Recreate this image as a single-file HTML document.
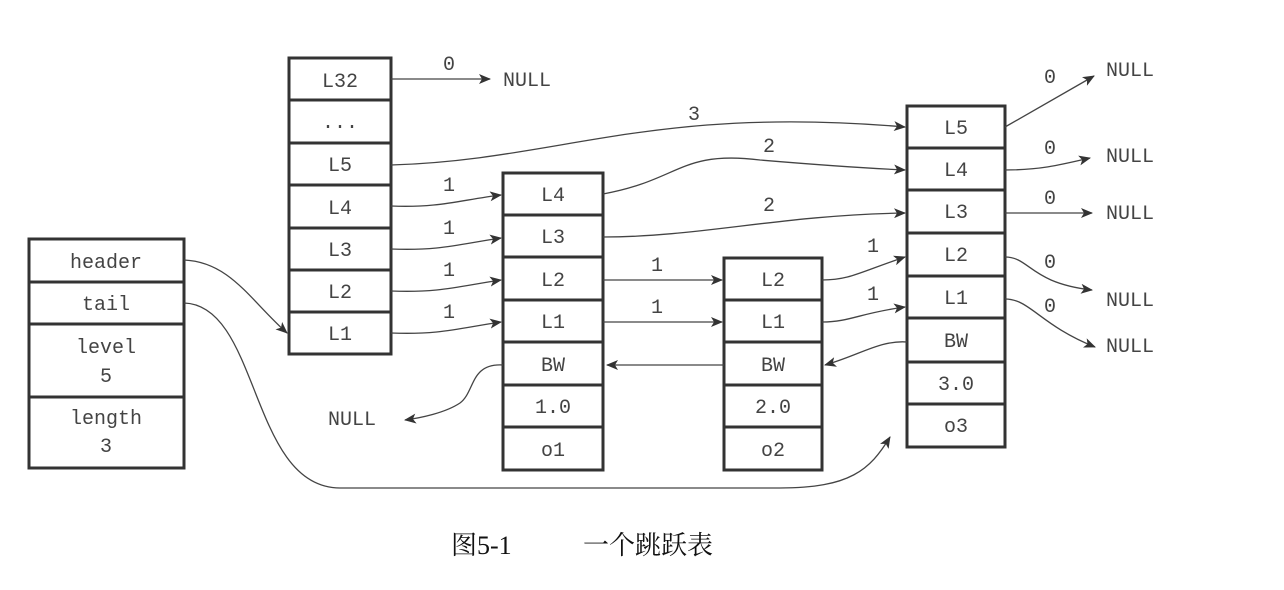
<!DOCTYPE html>
<html><head><meta charset="utf-8"><style>
body{margin:0;background:#fff;}
svg{display:block}
text{font-family:"Liberation Mono",monospace;font-size:20px;fill:#444;}
.c{font-family:"Liberation Serif","Noto Serif CJK SC",serif;font-size:26px;fill:#111;}
</style></head><body>
<svg width="1284" height="590" viewBox="0 0 1284 590" xmlns="http://www.w3.org/2000/svg">
<defs><marker id="a" markerWidth="12" markerHeight="10" refX="11" refY="5" orient="auto" markerUnits="userSpaceOnUse"><path d="M0,0 L12,5 L0,10 L3,5 z" fill="#333"/></marker></defs>
<g fill="none" stroke="#333" stroke-width="3">
<rect x="29" y="239" width="155" height="229"/><path d="M29 282H184M29 324H184M29 397H184"/>
<rect x="289" y="58" width="102" height="296"/><path d="M289 100H391M289 143H391M289 185H391M289 228H391M289 270H391M289 312H391"/>
<rect x="503" y="173" width="100" height="297"/><path d="M503 215H603M503 257H603M503 300H603M503 342H603M503 385H603M503 427H603"/>
<rect x="724" y="258" width="98" height="212"/><path d="M724 300H822M724 342H822M724 385H822M724 427H822"/>
<rect x="907" y="106" width="98" height="341"/><path d="M907 148H1005M907 190H1005M907 233H1005M907 276H1005M907 318H1005M907 362H1005M907 404H1005"/>
</g>
<g fill="none" stroke="#444" stroke-width="1.3" marker-end="url(#a)">
<path d="M184 260C230 262 250 300 287 333"/>
<path d="M184 303C260 305 250 488 340 488H780C850 488 870 470 890 437"/>
<path d="M391 79H490"/>
<path d="M391 165C560 160 650 105 905 127"/>
<path d="M391 206C440 208 460 200 501 195"/>
<path d="M391 249C440 251 460 244 501 238"/>
<path d="M391 291C440 293 460 286 501 280"/>
<path d="M391 333C440 335 460 328 501 322"/>
<path d="M603 194C680 180 680 150 760 160C820 165 860 168 905 170"/>
<path d="M603 237C700 237 780 215 905 213"/>
<path d="M603 280H722"/>
<path d="M603 322H722"/>
<path d="M503 365C470 363 475 392 460 403C445 413 420 418 405 420"/>
<path d="M724 365H607"/>
<path d="M907 342C880 340 860 355 825 365"/>
<path d="M822 280C850 280 860 272 905 257"/>
<path d="M822 322C850 322 860 313 905 307"/>
<path d="M1005 127L1094 76"/>
<path d="M1005 170C1040 170 1060 165 1090 158"/>
<path d="M1005 213H1092"/>
<path d="M1005 257C1030 257 1030 283 1092 290"/>
<path d="M1005 299C1030 299 1040 325 1095 347"/>
</g>
<g text-anchor="middle">
<text x="106" y="268">header</text><text x="106" y="310">tail</text>
<text x="106" y="353">level</text><text x="106" y="382">5</text>
<text x="106" y="424">length</text><text x="106" y="452">3</text>
<text x="340" y="87">L32</text><text x="340" y="128">...</text><text x="340" y="171">L5</text><text x="340" y="214">L4</text><text x="340" y="256">L3</text><text x="340" y="298">L2</text><text x="340" y="340">L1</text>
<text x="553" y="201">L4</text><text x="553" y="243">L3</text><text x="553" y="286">L2</text><text x="553" y="328">L1</text><text x="553" y="371">BW</text><text x="553" y="413">1.0</text><text x="553" y="456">o1</text>
<text x="773" y="286">L2</text><text x="773" y="328">L1</text><text x="773" y="371">BW</text><text x="773" y="413">2.0</text><text x="773" y="456">o2</text>
<text x="956" y="134">L5</text><text x="956" y="176">L4</text><text x="956" y="218">L3</text><text x="956" y="261">L2</text><text x="956" y="304">L1</text><text x="956" y="347">BW</text><text x="956" y="390">3.0</text><text x="956" y="432">o3</text>
<text x="449" y="70">0</text>
<text x="449" y="191">1</text><text x="449" y="234">1</text><text x="449" y="276">1</text><text x="449" y="318">1</text>
<text x="694" y="120">3</text><text x="769" y="152">2</text><text x="769" y="211">2</text>
<text x="657" y="271">1</text><text x="657" y="313">1</text>
<text x="873" y="252">1</text><text x="873" y="300">1</text>
<text x="1050" y="83">0</text><text x="1050" y="154">0</text><text x="1050" y="204">0</text><text x="1050" y="268">0</text><text x="1050" y="312">0</text>
</g>
<text x="503" y="86">NULL</text>
<text x="328" y="425">NULL</text>
<text x="1106" y="76">NULL</text><text x="1106" y="162">NULL</text><text x="1106" y="219">NULL</text><text x="1106" y="306">NULL</text><text x="1106" y="352">NULL</text>
<text class="c" x="451" y="554">图5-1</text><text class="c" x="583" y="554">一个跳跃表</text>
</svg>
</body></html>
